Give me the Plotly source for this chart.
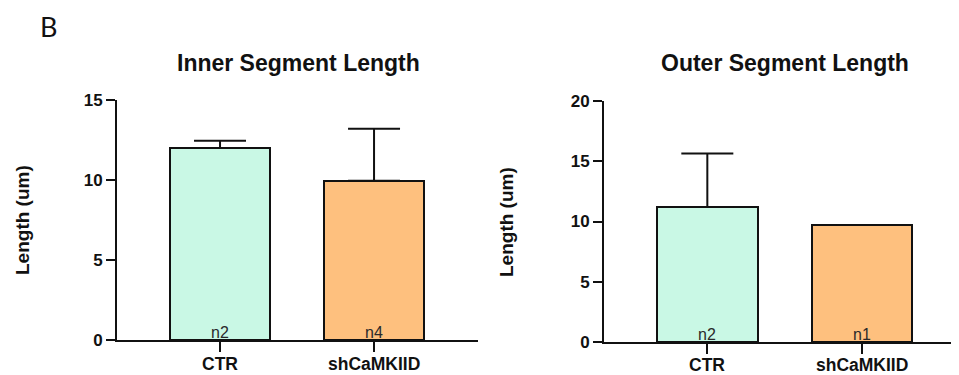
import plotly.graph_objects as go

categories = ["CTR", "shCaMKIID"]
inner_values = [12.0, 9.95]
inner_err = [0.45, 3.25]
inner_n = ["n2", "n4"]
outer_values = [11.2, 9.7]
outer_err = [4.45, 0.0]
outer_n = ["n2", "n1"]
inner_ticks = [0, 5, 10, 15]
outer_ticks = [0, 5, 10, 15, 20]
bar_colors = ["#c9f8e5", "#fec07e"]

OFF = 8  # default page body margin
W, H = 959 - OFF, 375 - OFF
FONT = "Liberation Sans, Arial, sans-serif"

fig = go.Figure()
xpos = [0, 1]

def add_panel(vals, errs, xa, ya):
    fig.add_trace(go.Bar(
        x=xpos, y=vals, width=0.65,
        marker=dict(color=bar_colors, line=dict(color="#111111", width=2)),
        error_y=dict(type="data", array=errs, arrayminus=[0]*len(errs), symmetric=False,
                     color="#111111", thickness=2, width=26),
        xaxis=xa, yaxis=ya, showlegend=False, hoverinfo="skip"))

add_panel(inner_values, inner_err, "x", "y")
add_panel(outer_values, outer_err, "x2", "y2")

def px(v):
    return (v - OFF) / W

def py(v):
    return (H - (v - OFF)) / H

axis_common = dict(showgrid=False, zeroline=False, showline=True, linecolor="#111111",
                   linewidth=2, ticks="outside", tickcolor="#111111", tickwidth=2, ticklen=9,
                   automargin=False,
                   tickfont=dict(family=FONT, size=17, color="#111111", weight="bold"))

fig.update_layout(
    width=W, height=H, margin=dict(l=0, r=0, t=0, b=0, pad=0, autoexpand=False),
    plot_bgcolor="white", paper_bgcolor="white", bargap=0,
    xaxis=dict(domain=[px(117), px(478)], range=[-0.669, 1.675], tickvals=xpos,
               showticklabels=False, anchor="y", **axis_common),
    yaxis=dict(domain=[py(340), py(100)], range=[0, 15], tickvals=inner_ticks, anchor="x",
               **axis_common),
    xaxis2=dict(domain=[px(604), 1.0], range=[-0.668, 1.627], tickvals=xpos,
                showticklabels=False, anchor="y2", **axis_common),
    yaxis2=dict(domain=[py(342), py(101)], range=[0, 20], tickvals=outer_ticks, anchor="x2",
                **axis_common),
)
fig.update_xaxes(ticklen=10)

ann = []
for xa, ya, ns, cy in (("x", "y", inner_n, 363.5), ("x2", "y2", outer_n, 364.5)):
    for i, t in enumerate(ns):
        ann.append(dict(x=xpos[i], y=0, xref=xa, yref=ya, text=t, showarrow=False,
                        yanchor="bottom", yshift=-3,
                        font=dict(family=FONT, size=16, color="#2a2a2a")))
    for i, c in enumerate(categories):
        ann.append(dict(x=xpos[i], y=py(cy), xref=xa, yref="paper", text=c, showarrow=False,
                        xanchor="center", yanchor="middle",
                        font=dict(family=FONT, size=17.5, color="#111111", weight="bold")))

titles = [("Inner Segment Length", 298), ("Outer Segment Length", 785)]
for t, cx in titles:
    ann.append(dict(x=px(cx), y=py(63), xref="paper", yref="paper", text=t, showarrow=False,
                    xanchor="center", yanchor="middle",
                    font=dict(family=FONT, size=23, color="#111111", weight="bold")))

for cx, cy in ((22, 220), (507, 222)):
    ann.append(dict(x=px(cx), y=py(cy), xref="paper", yref="paper", text="Length (um)",
                    showarrow=False, textangle=-90, xanchor="center", yanchor="middle",
                    font=dict(family=FONT, size=19, color="#111111", weight="bold")))

ann.append(dict(x=px(48), y=py(8.5), xref="paper", yref="paper", text="B", showarrow=False,
                xanchor="center", yanchor="top",
                font=dict(family="Lato, sans-serif", size=27, color="#111111")))

fig.update_layout(annotations=ann)
fig.write_html("out.html")
